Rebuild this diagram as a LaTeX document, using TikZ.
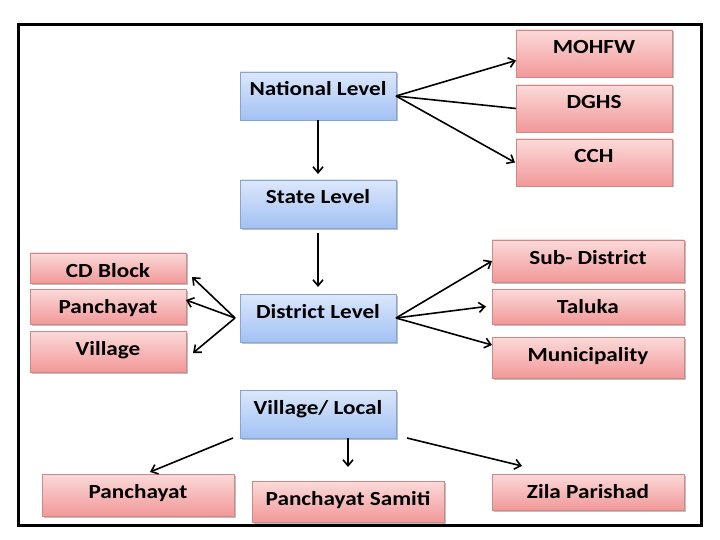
\documentclass[tikz,border=0pt]{standalone}
\usepackage{fontspec}
\setmainfont{Carlito}[FakeStretch=1.16]
\usepackage{tikz}
\usetikzlibrary{arrows.meta,shapes,positioning,shadows}

\definecolor{lvltop}{HTML}{DCE7FB}
\definecolor{lvlbot}{HTML}{A2C1F4}
\definecolor{lvlline}{HTML}{86A5D4}
\definecolor{orgtop}{HTML}{FBDADA}
\definecolor{orgbot}{HTML}{F29898}
\definecolor{orgline}{HTML}{CF8886}

\tikzset{
  box/.style={draw, anchor=north west, inner ysep=0pt, outer sep=0pt,
    text height=24bp, font=\bfseries\fontsize{20bp}{24bp}\selectfont,
    drop shadow={shadow xshift=1.5bp, shadow yshift=-1.5bp, opacity=0.25, fill=black}},
  lvl/.style={box, draw=lvlline, top color=lvltop, bottom color=lvlbot},
  org/.style={box, draw=orgline, top color=orgtop, bottom color=orgbot},
  boxsize/.style 2 args={minimum width=#1bp, text depth=#2bp},
  link/.style={line width=1.6bp, black},
}

\begin{document}
\begin{tikzpicture}[x=1bp, y=-1bp, >={Straight Barb[length=6bp,width=10bp]}]
			\useasboundingbox (0,0) rectangle (720,540);
			\draw[line width=3bp] (18.5,24.5) rectangle (701.5,525);

			% levels
			\node[lvl, boxsize={156}{24}] (nat) at (240,72) {National Level};
			\node[lvl, boxsize={156}{24}] (state) at (240,180) {State Level};
			\node[lvl, boxsize={156}{24}] (dist) at (240,294) {District Level};
			\node[lvl, boxsize={156}{24}] (vl) at (240,390) {Village/ Local};

			% national bodies
			\node[org, boxsize={156}{23}] (mohfw) at (516,30) {MOHFW};
			\node[org, boxsize={156}{23}] (dghs) at (516,85) {DGHS};
			\node[org, boxsize={156}{23}] (cch) at (516,139) {CCH};

			% district units
			\node[org, boxsize={156}{6}] (cd) at (30,253) {CD Block};
			\node[org, boxsize={156}{11}] (panl) at (30,289) {Panchayat};
			\node[org, boxsize={156}{17}] (vill) at (30,331) {Village};
			\node[org, boxsize={192}{18}] (sub) at (492,240) {Sub- District};
			\node[org, boxsize={192}{11}] (tal) at (492,289) {Taluka};
			\node[org, boxsize={192}{17}] (mun) at (492,337) {Municipality};

			% local bodies
			\node[org, boxsize={192}{18}] (panb) at (42,474) {Panchayat};
			\node[org, boxsize={192}{17}] (sam) at (252,481) {Panchayat Samiti};
			\node[org, boxsize={192}{12}] (zila) at (492,474) {Zila Parishad};

			\draw[link, ->] (nat.east) -- ([yshift=-7bp]mohfw.west);
			\draw[link] (nat.east) -- (dghs.west);
			\draw[link, ->] (nat.east) -- ([xshift=-1bp]cch.west);
			\draw[link, ->] (nat.south) -- ([yshift=6bp]state.north);
			\draw[link, ->] ([yshift=-5bp]state.south) -- ([yshift=7bp]dist.north);

			\draw[link, ->] ([xshift=-5bp]dist.west) -- ([shift={(6bp,6bp)}]cd.south east);
			\draw[link, ->] ([xshift=-5bp]dist.west) -- ([yshift=6.5bp]panl.east);
			\draw[link, ->] ([xshift=-5bp]dist.west) -- ([shift={(7bp,-1.5bp)}]vill.east);
			\draw[link, ->] (dist.east) -- (sub.west);
			\draw[link, ->] (dist.east) -- ([xshift=-6bp]tal.west);
			\draw[link, ->] (dist.east) -- ([yshift=12.5bp]mun.west);

			\draw[link, ->] ([xshift=-7bp]vl.south west) -- ([shift={(12bp,2bp)}]panb.north);
			\draw[link, ->] (vl.south -| sam.north) -- ([yshift=14bp]sam.north);
			\draw[link, ->] ([xshift=11bp]vl.south east) -- ([shift={(30bp,8bp)}]zila.north west);
		\end{tikzpicture}
\end{document}
